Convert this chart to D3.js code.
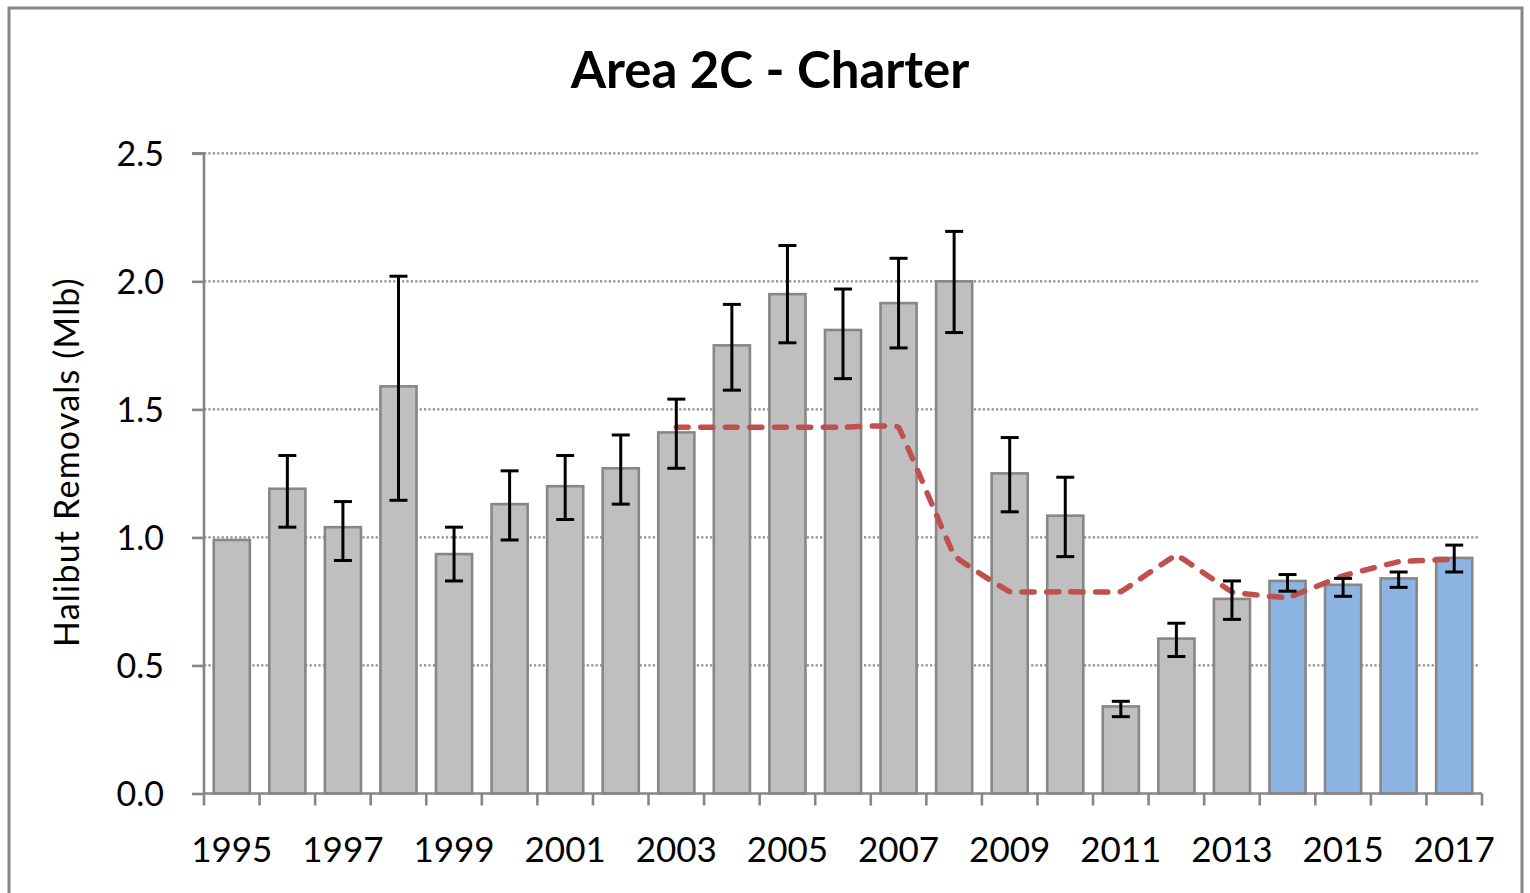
<!DOCTYPE html>
<html>
<head>
<meta charset="utf-8">
<script src="https://cdn.jsdelivr.net/npm/d3@7"></script>
<style>
  html, body { margin: 0; padding: 0; background: #fff; }
  svg { display: block; }
  text { font-family: Lato, "Open Sans", sans-serif; fill: #000; }
</style>
</head>
<body>
<svg id="chart" width="1530" height="893"></svg>
<script>
// Charter halibut removals, Area 2C (million lb)
const years = [1995, 1996, 1997, 1998, 1999, 2000, 2001, 2002, 2003, 2004, 2005, 2006,
               2007, 2008, 2009, 2010, 2011, 2012, 2013, 2014, 2015, 2016, 2017];
const removals = [0.99, 1.19, 1.04, 1.59, 0.935, 1.13, 1.20, 1.27, 1.41, 1.75, 1.95, 1.81,
                  1.915, 2.00, 1.25, 1.085, 0.34, 0.605, 0.76, 0.83, 0.815, 0.84, 0.92];
const lowerCI = [null, 1.04, 0.91, 1.145, 0.83, 0.99, 1.07, 1.13, 1.27, 1.575, 1.76, 1.62,
                 1.74, 1.80, 1.10, 0.925, 0.30, 0.535, 0.68, 0.79, 0.77, 0.805, 0.865];
const upperCI = [null, 1.32, 1.14, 2.02, 1.04, 1.26, 1.32, 1.40, 1.54, 1.91, 2.14, 1.97,
                 2.09, 2.195, 1.39, 1.235, 0.36, 0.665, 0.83, 0.855, 0.84, 0.865, 0.97];
// Years from 2014 on are shown in blue
const blueFromYear = 2014;
// Charter allocation / GHL (dashed line)
const limitYears = [2003, 2004, 2005, 2006, 2007, 2008, 2009, 2010, 2011, 2012, 2013, 2014, 2015, 2016, 2017];
const limitValues = [1.43, 1.43, 1.43, 1.43, 1.43, 0.93, 0.788, 0.788, 0.788, 0.93, 0.787, 0.765, 0.85, 0.905, 0.915];
const yTicks = [0, 0.5, 1.0, 1.5, 2.0, 2.5];
const title = "Area 2C - Charter";
const yLabel = "Halibut Removals (Mlb)";

const svg = d3.select("#chart");
const plotLeft = 204, plotRight = 1482, plotTop = 153.3, plotBottom = 793.5;

// outer frame
svg.append("rect")
  .attr("x", 9).attr("y", 8).attr("width", 1513).attr("height", 900)
  .attr("fill", "none").attr("stroke", "#868686").attr("stroke-width", 3);

const x = d3.scaleBand().domain(years).range([plotLeft, plotRight])
  .paddingInner(0.35).paddingOuter(0.175);
const y = d3.scaleLinear().domain([0, 2.5]).range([plotBottom, plotTop]);
const step = x.step();

// horizontal dotted gridlines
svg.append("g").selectAll("line")
  .data(yTicks.filter(d => d > 0))
  .join("line")
  .attr("x1", plotLeft).attr("x2", plotRight - 4)
  .attr("y1", d => y(d)).attr("y2", d => y(d))
  .attr("stroke", "#8c8c8c").attr("stroke-width", 2.2)
  .attr("stroke-dasharray", "2.2,2.2");

// bars
svg.append("g").selectAll("rect")
  .data(years)
  .join("rect")
  .attr("x", d => x(d))
  .attr("width", x.bandwidth())
  .attr("y", (d, i) => y(removals[i]))
  .attr("height", (d, i) => y(0) - y(removals[i]))
  .attr("fill", d => d >= blueFromYear ? "#8DB4E2" : "#BFBFBF")
  .attr("stroke", "#878787").attr("stroke-width", 2.6);

// dashed limit line, lightly rounded at the corners
const line = d3.line()
  .x((d, i) => x(limitYears[i]) + x.bandwidth() / 2)
  .y(d => y(d))
  .curve(d3.curveCardinal.tension(0.85));
svg.append("path")
  .datum(limitValues)
  .attr("d", line)
  .attr("fill", "none")
  .attr("stroke", "#C0504D").attr("stroke-width", 5.5)
  .attr("stroke-linecap", "round")
  .attr("stroke-dasharray", "12,12.5");

// error bars
const ebIdx = years.map((d, i) => i).filter(i => lowerCI[i] != null);
const eb = svg.append("g").attr("stroke", "#000").attr("stroke-width", 3);
const cap = 9;
ebIdx.forEach(i => {
  const cx = x(years[i]) + x.bandwidth() / 2;
  eb.append("line").attr("x1", cx).attr("x2", cx)
    .attr("y1", y(lowerCI[i])).attr("y2", y(upperCI[i]));
  eb.append("line").attr("x1", cx - cap).attr("x2", cx + cap)
    .attr("y1", y(lowerCI[i])).attr("y2", y(lowerCI[i]));
  eb.append("line").attr("x1", cx - cap).attr("x2", cx + cap)
    .attr("y1", y(upperCI[i])).attr("y2", y(upperCI[i]));
});

// y axis
const yAxis = d3.axisLeft(y).tickValues(yTicks).tickSize(12).tickPadding(28)
  .tickFormat(d3.format(".1f"));
const gy = svg.append("g").attr("transform", `translate(${plotLeft},0)`).call(yAxis);
gy.select(".domain").attr("stroke", "#868686").attr("stroke-width", 2.6)
  .attr("d", `M-12,${plotTop}H0V${plotBottom}`);
gy.selectAll(".tick line").attr("stroke", "#868686").attr("stroke-width", 2.6);
gy.selectAll(".tick text").style("font-size", "34px").attr("dy", "0.36em");

// x axis: line, boundary ticks, labels on alternate years
const gx = svg.append("g");
gx.append("line").attr("x1", plotLeft).attr("x2", plotRight)
  .attr("y1", plotBottom).attr("y2", plotBottom)
  .attr("stroke", "#868686").attr("stroke-width", 2.6);
gx.selectAll("line.tk")
  .data(d3.range(years.length + 1))
  .join("line").attr("class", "tk")
  .attr("x1", i => plotLeft + i * step).attr("x2", i => plotLeft + i * step)
  .attr("y1", plotBottom).attr("y2", plotBottom + 12)
  .attr("stroke", "#868686").attr("stroke-width", 2.6);
gx.selectAll("text")
  .data(years.filter((d, i) => i % 2 === 0))
  .join("text")
  .attr("x", d => x(d) + x.bandwidth() / 2)
  .attr("y", 862)
  .attr("text-anchor", "middle")
  .style("font-size", "35px")
  .text(d => d);

// title
svg.append("text")
  .attr("x", 770).attr("y", 88)
  .attr("text-anchor", "middle")
  .style("font-size", "51px").style("font-weight", "bold")
  .text(title);

// y axis label
svg.append("text")
  .attr("transform", "translate(79,462) rotate(-90)")
  .attr("text-anchor", "middle")
  .style("font-size", "34px").style("letter-spacing", "1.2px")
  .text(yLabel);
</script>
</body>
</html>
